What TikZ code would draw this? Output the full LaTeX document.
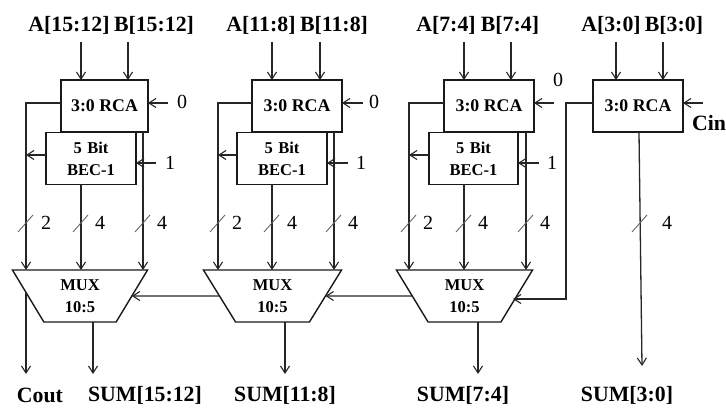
\documentclass[tikz,border=0pt]{standalone}
\usepackage{fontspec}
\setmainfont{Liberation Serif}
\usetikzlibrary{arrows.meta,shapes.geometric}
\tikzset{
  wire/.style={draw=black!85, line width=1.3pt},
  sig/.style={wire, -{Straight Barb[length=7pt,width=9pt,line width=1.1pt]}},
  blockbox/.style={draw=black!90, line width=1.4pt, fill=white, minimum height=52pt, inner sep=0pt, outer sep=0pt, font=\bfseries\fontsize{16.5}{22}\selectfont, align=center},
  rcabox/.style={blockbox, minimum width=90pt, font=\bfseries\fontsize{17.8}{22}\selectfont},
  muxbox/.style={trapezium, shape border rotate=180, trapezium stretches=true, trapezium angle=62.6, draw=black!90, line width=1.4pt, fill=white, minimum width=136pt, minimum height=52pt, inner sep=0pt, outer sep=0pt, font=\bfseries\fontsize{16.5}{22}\selectfont, align=center},
  buslabel/.style={font=\bfseries\fontsize{21.8}{24}\selectfont, inner sep=0pt},
  numlabel/.style={font=\fontsize{20}{22}\selectfont, inner sep=0pt},
  tick/.style={draw=black!60, line width=0.9pt},
}
\begin{document}
\begin{tikzpicture}[x=1pt,y=-1pt]
\useasboundingbox (0,0) rectangle (726,409);
% bus names on top
\node[buslabel] (a3) at (69,25) {A[15:12]};
\node[buslabel] (b3) at (154,25) {B[15:12]};
\node[buslabel] (a2) at (261,25) {A[11:8]};
\node[buslabel] (b2) at (334,25) {B[11:8]};
\node[buslabel] (a1) at (446,25) {A[7:4]};
\node[buslabel] (b1) at (510,25) {B[7:4]};
\node[buslabel] (a0) at (611,25) {A[3:0]};
\node[buslabel] (b0) at (674,25) {B[3:0]};
% blocks
\node[rcabox, minimum width=87pt] (rca3) at (104.5,106) {3:0 RCA};
\node[blockbox, minimum width=90pt] (bec3) at (91,158.5) {5\,\,Bit\\BEC-1};
\node[muxbox] (mux3) at (80,296) {MUX\\10:5};
\node[rcabox] (rca2) at (297,106) {3:0 RCA};
\node[blockbox, minimum width=90pt] (bec2) at (282,158.5) {5\,\,Bit\\BEC-1};
\node[muxbox, minimum width=139pt] (mux2) at (272.5,296) {MUX\\10:5};
\node[rcabox] (rca1) at (489,106) {3:0 RCA};
\node[blockbox, minimum width=89pt] (bec1) at (473.5,158.5) {5\,\,Bit\\BEC-1};
\node[muxbox, minimum width=137pt] (mux1) at (464.5,296) {MUX\\10:5};
\node[rcabox] (rca0) at (638,106) {3:0 RCA};
% free ends
\coordinate (in3a) at (81,42);  \coordinate (in3b) at (128,42);
\coordinate (in2a) at (272,42); \coordinate (in2b) at (320,42);
\coordinate (in1a) at (464,42); \coordinate (in1b) at (511,42);
\coordinate (in0a) at (616,42); \coordinate (in0b) at (663,42);
\coordinate (l3) at (26,103);  \coordinate (t3) at (26,155);
\coordinate (m3) at (81,185);  \coordinate (r3) at (143,132);
\coordinate (l2) at (218,103); \coordinate (t2) at (218,155);
\coordinate (m2) at (272,185); \coordinate (r2) at (334,132);
\coordinate (l1) at (409,103); \coordinate (t1) at (409,155);
\coordinate (m1) at (464,185); \coordinate (r1) at (526,132);
\coordinate (l0) at (566,103); \coordinate (e0) at (566,299); \coordinate (e1) at (513,299);
\coordinate (zero3) at (168,103); \coordinate (one3) at (156,163);
\coordinate (zero2) at (363,103); \coordinate (one2) at (348,163);
\coordinate (zero1) at (554,103); \coordinate (one1) at (539,163);
\coordinate (cin0) at (703,103);
\coordinate (s0a) at (639,132); \coordinate (s0b) at (642,366);
\coordinate (c3) at (26,293); \coordinate (cout) at (26,374);
\coordinate (s3) at (93,374); \coordinate (s2) at (285,374); \coordinate (s1) at (478,374);
% inputs
\draw[sig] (in3a) -- (in3a |- rca3.north);
\draw[sig] (in3b) -- (in3b |- rca3.north);
\draw[sig] (in2a) -- (in2a |- rca2.north);
\draw[sig] (in2b) -- (in2b |- rca2.north);
\draw[sig] (in1a) -- (in1a |- rca1.north);
\draw[sig] (in1b) -- (in1b |- rca1.north);
\draw[sig] (in0a) -- (in0a |- rca0.north);
\draw[sig] (in0b) -- (in0b |- rca0.north);
\draw[sig] (zero3) -- (zero3 -| rca3.east);
\draw[sig] (one3) -- (one3 -| bec3.east);
\draw[sig] (zero2) -- (zero2 -| rca2.east);
\draw[sig] (one2) -- (one2 -| bec2.east);
\draw[sig] (zero1) -- (zero1 -| rca1.east);
\draw[sig] (one1) -- (one1 -| bec1.east);
\draw[sig] (cin0) -- (cin0 -| rca0.east);
% wires into the muxes
\draw[sig] (l3 -| rca3.west) -- (l3) -- (l3 |- mux3.north);
\draw[sig] (t3 -| bec3.west) -- (t3);
\draw[sig] (m3 |- bec3.south) -- (m3 |- mux3.north);
\draw[sig] (r3 |- rca3.south) -- (r3 |- mux3.north);
\draw[sig] (l2 -| rca2.west) -- (l2) -- (l2 |- mux2.north);
\draw[sig] (t2 -| bec2.west) -- (t2);
\draw[sig] (m2 |- bec2.south) -- (m2 |- mux2.north);
\draw[sig] (r2 |- rca2.south) -- (r2 |- mux2.north);
\draw[sig] (l1 -| rca1.west) -- (l1) -- (l1 |- mux1.north);
\draw[sig] (t1 -| bec1.west) -- (t1);
\draw[sig] (m1 |- bec1.south) -- (m1 |- mux1.north);
\draw[sig] (r1 |- rca1.south) -- (r1 |- mux1.north);
\draw[sig] (l0 -| rca0.west) -- (l0) -- (e0) -- (e1);
\draw[sig] (s0a) -- (s0b);
\draw[sig] (mux2.west) -- (mux3.east);
\draw[sig] (mux1.west) -- (mux2.east);
% outputs
\draw[sig] (c3) -- (cout);
\draw[sig] (s3 |- mux3.south) -- (s3);
\draw[sig] (s2 |- mux2.south) -- (s2);
\draw[sig] (s1 |- mux1.south) -- (s1);
% bus ticks
\draw[tick] (l3 |- 0,223) +(-8,9) -- +(7,-8);
\draw[tick] (m3 |- 0,223) +(-8,9) -- +(7,-8);
\draw[tick] (r3 |- 0,223) +(-8,9) -- +(7,-8);
\draw[tick] (l2 |- 0,223) +(-8,9) -- +(7,-8);
\draw[tick] (m2 |- 0,223) +(-8,9) -- +(7,-8);
\draw[tick] (r2 |- 0,223) +(-8,9) -- +(7,-8);
\draw[tick] (l1 |- 0,223) +(-8,9) -- +(7,-8);
\draw[tick] (m1 |- 0,223) +(-8,9) -- +(7,-8);
\draw[tick] (r1 |- 0,223) +(-8,9) -- +(7,-8);
\draw[tick] (640,223) +(-8,9) -- +(7,-8);
% numbers
\node[numlabel] (n30) at (182,102) {0};
\node[numlabel] (n31) at (170,163) {1};
\node[numlabel] (n20) at (374,102) {0};
\node[numlabel] (n21) at (361,163) {1};
\node[numlabel] (n10) at (558,80) {0};
\node[numlabel] (n11) at (552,163) {1};
\node[numlabel] (w32) at (46,223) {2};
\node[numlabel] (w34) at (100,223) {4};
\node[numlabel] (w35) at (162,223) {4};
\node[numlabel] (w22) at (237,223) {2};
\node[numlabel] (w24) at (292,223) {4};
\node[numlabel] (w25) at (353,223) {4};
\node[numlabel] (w12) at (428,223) {2};
\node[numlabel] (w14) at (483,223) {4};
\node[numlabel] (w15) at (545,223) {4};
\node[numlabel] (w04) at (667,223) {4};
% bus names at the bottom
\node[buslabel] (cin) at (709,123) {Cin};
\node[buslabel] (coutl) at (40,395) {Cout};
\node[buslabel] (sum3) at (145,395) {SUM[15:12]};
\node[buslabel] (sum2) at (285,395) {SUM[11:8]};
\node[buslabel] (sum1) at (463,395) {SUM[7:4]};
\node[buslabel] (sum0) at (627,395) {SUM[3:0]};
\end{tikzpicture}
\end{document}
